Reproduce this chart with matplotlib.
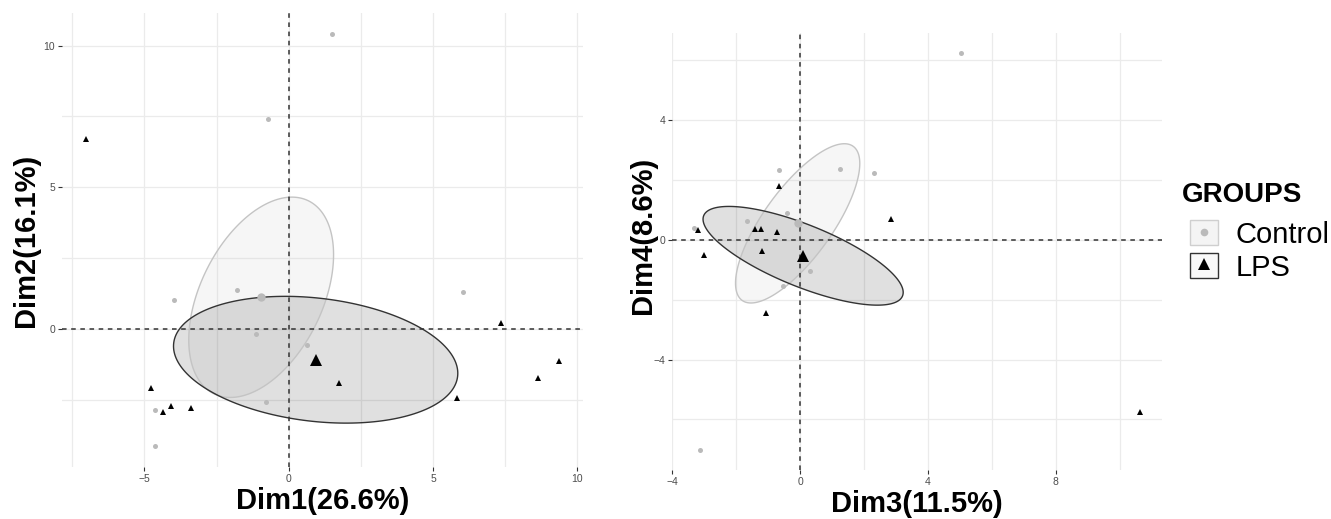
import numpy as np
import matplotlib.pyplot as plt
from matplotlib.ticker import MultipleLocator
from matplotlib.patches import Polygon, Patch
from matplotlib.lines import Line2D

plt.rcParams['font.family'] = ['Liberation Sans', 'DejaVu Sans']

# ==============================
# Coordenadas de los individuos
# ==============================
groups = ['Control', 'LPS']

# Dim1 / Dim2
ctrl_d1 = [1.49, -0.73, -1.80, -3.96, 6.04, -1.13, 0.63, -0.80, -4.64, -4.64]
ctrl_d2 = [10.42, 7.39, 1.36, 1.00, 1.30, -0.18, -0.57, -2.59, -2.86, -4.15]
lps_d1 = [-7.03, 7.35, 9.37, 8.64, 1.75, 5.83, -4.76, -4.07, -4.36, -3.39]
lps_d2 = [6.69, 0.21, -1.14, -1.74, -1.93, -2.46, -2.10, -2.74, -2.92, -2.79]

# Dim3 / Dim4
ctrl_d3 = [5.04, -0.67, 1.26, 2.33, -0.40, -1.65, -3.31, 0.30, -0.52, -3.13]
ctrl_d4 = [6.25, 2.33, 2.38, 2.25, 0.90, 0.64, 0.38, -1.05, -1.54, -7.03]
lps_d3 = [-0.66, 2.84, -3.20, -1.41, -1.23, -0.73, -3.02, -1.18, -1.08, 10.63]
lps_d4 = [1.80, 0.69, 0.32, 0.35, 0.35, 0.26, -0.52, -0.38, -2.43, -5.77]

pct = {'Dim1': 26.6, 'Dim2': 16.1, 'Dim3': 11.5, 'Dim4': 8.6}

# Estilo de cada grupo
pt_color = {'Control': '#bababa', 'LPS': '#000000'}
edge_color = {'Control': '#c4c4c4', 'LPS': '#333333'}
marker = {'Control': 'o', 'LPS': '^'}
msize = {'Control': 3.6, 'LPS': 4.6}
msize_mean = {'Control': 6.0, 'LPS': 8.0}


def conf_ellipse(x, y, k=2.4477, n_pts=200):
    # Elipse de confianza (95 %) del baricentro
    x = np.asarray(x)
    y = np.asarray(y)
    cov = np.cov(x, y) / len(x)
    vals, vecs = np.linalg.eigh(cov)
    t = np.linspace(0, 2 * np.pi, n_pts)
    circ = np.vstack([np.cos(t), np.sin(t)])
    pts = vecs @ (np.sqrt(vals)[:, None] * circ) * k
    return np.column_stack([pts[0] + x.mean(), pts[1] + y.mean()])


def panel(ax, data, xname, yname, major, minor):
    for g in groups:
        x, y = data[g]
        ax.add_patch(Polygon(conf_ellipse(x, y), closed=True, facecolor=pt_color[g],
                             alpha=0.12, edgecolor='none', zorder=2))
        ax.add_patch(Polygon(conf_ellipse(x, y), closed=True, facecolor='none',
                             edgecolor=edge_color[g], lw=1.0, zorder=2.1))
    for g in groups:
        x, y = data[g]
        ax.plot(x, y, marker[g], color=pt_color[g], ms=msize[g], mew=0, zorder=4)
        ax.plot(np.mean(x), np.mean(y), marker[g], color=pt_color[g],
                ms=msize_mean[g], mew=0, zorder=5)
    ax.axhline(0, color='#333333', lw=1.1, ls=(0, (3, 3)), zorder=3)
    ax.axvline(0, color='#333333', lw=1.1, ls=(0, (3, 3)), zorder=3)
    ax.margins(0.05)
    ax.xaxis.set_major_locator(MultipleLocator(major))
    ax.xaxis.set_minor_locator(MultipleLocator(minor))
    ax.yaxis.set_major_locator(MultipleLocator(major))
    ax.yaxis.set_minor_locator(MultipleLocator(minor))
    ax.grid(True, which='both', color='#ebebeb', lw=0.9, zorder=0)
    ax.set_axisbelow(True)
    for s in ax.spines.values():
        s.set_visible(False)
    ax.tick_params(which='major', length=3, width=0.8, color='#333333',
                   labelcolor='#4d4d4d', labelsize=7.5, pad=2)
    ax.tick_params(which='minor', length=0)
    ax.set_xlabel(f'{xname}({pct[xname]}%)', fontsize=21, fontweight='bold', labelpad=2)
    ax.set_ylabel(f'{yname}({pct[yname]}%)', fontsize=21, fontweight='bold')


fig = plt.figure(figsize=(13.31, 5.19), dpi=100)
ax1 = fig.add_axes([0.0466, 0.1002, 0.3914, 0.8748])
ax2 = fig.add_axes([0.5049, 0.0944, 0.3681, 0.8420])

panel(ax1, {'Control': (ctrl_d1, ctrl_d2), 'LPS': (lps_d1, lps_d2)},
      'Dim1', 'Dim2', 5, 2.5)
panel(ax2, {'Control': (ctrl_d3, ctrl_d4), 'LPS': (lps_d3, lps_d4)},
      'Dim3', 'Dim4', 4, 2)
ax1.yaxis.set_label_coords(-0.042, 0.5)
ax2.yaxis.set_label_coords(-0.030, 0.538)

# Leyenda
fig.text(1182 / 1331, 1 - 195 / 519, 'GROUPS', fontsize=20, fontweight='bold',
         va='center', ha='left')

handles = []
key_fill = {'Control': '#f4f4f4', 'LPS': '#f9f9f9'}
key_edge = {'Control': '#cfcfcf', 'LPS': '#333333'}
key_ms = {'Control': 5.5, 'LPS': 8.0}
for g in groups:
    box = Patch(facecolor=key_fill[g], edgecolor=key_edge[g], lw=1.0)
    mk = Line2D([], [], ls='none', marker=marker[g], color=pt_color[g],
                ms=key_ms[g], mew=0)
    handles.append((box, mk))

leg = fig.legend(handles, groups, loc='center left',
                 bbox_to_anchor=(1190 / 1331, 1 - 251 / 519),
                 frameon=False, fontsize=21, borderaxespad=0, borderpad=0,
                 handlelength=0.95, handleheight=0.95, handletextpad=0.62,
                 labelspacing=0.15)

fig.savefig('out.png', dpi=100)
